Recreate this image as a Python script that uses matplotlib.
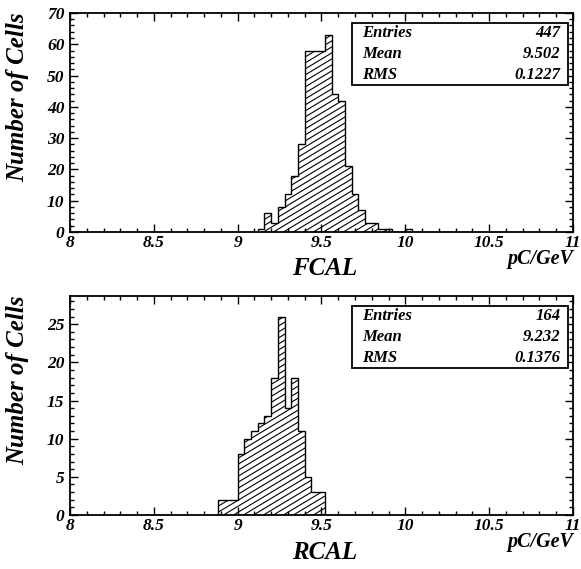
import numpy as np
import matplotlib
matplotlib.use("Agg")
import matplotlib.pyplot as plt
from matplotlib.ticker import MultipleLocator
from matplotlib.collections import LineCollection

plt.rcParams["font.family"] = "Liberation Serif"

# bin width 0.04 pC/GeV
fcal_lo = 9.12
fcal_counts = [1, 6, 3, 8, 12, 18, 28, 58, 58, 58, 63, 44, 42, 21, 12, 7, 3, 3, 1, 1, 0, 0, 1]
rcal_lo = 8.88
rcal_counts = [2, 2, 2, 8, 10, 11, 12, 13, 18, 26, 14, 18, 11, 5, 3, 3]
bin_w = 0.04

fcal_stats = ["447", "9.502", "0.1227"]
rcal_stats = ["164", "9.232", "0.1376"]
stat_names = ["Entries", "Mean", "RMS"]

W, H = 581, 569
fig = plt.figure(figsize=(W / 100, H / 100), dpi=100)
ax1 = fig.add_axes([0.1205, 0.5923, 0.8657, 0.3849])
ax2 = fig.add_axes([0.1205, 0.0949, 0.8657, 0.3849])

bold_it = dict(fontweight="bold", fontstyle="italic")


def hatch_lines(ax, patch, angle=31, gap=6.0):
    # ROOT-like slanted hatching, built in pixel units then clipped to the histogram
    wpx = ax.get_position().width * W
    hpx = ax.get_position().height * H
    t = np.tan(np.radians(angle))
    segs = []
    c = -wpx * t
    while c < hpx:
        x0, x1 = 0, wpx
        segs.append([(x0 / wpx, c / hpx), (x1 / wpx, (c + x1 * t) / hpx)])
        c += gap
    lc = LineCollection(segs, colors="black", linewidths=0.8, transform=ax.transAxes)
    ax.add_collection(lc)
    lc.set_clip_path(patch)


def draw(ax, lo, counts, ymax, ymaj, ymin, stats, name, namey):
    edges = lo + bin_w * np.arange(len(counts) + 1)
    patch = ax.stairs(counts, edges, fill=True, facecolor="white", edgecolor="none")
    hatch_lines(ax, patch)
    ax.stairs(counts, edges, fill=False, color="black", linewidth=1.0, baseline=0)
    ax.set_xlim(8, 11)
    ax.set_ylim(0, ymax)
    ax.xaxis.set_major_locator(MultipleLocator(0.5))
    ax.xaxis.set_minor_locator(MultipleLocator(0.1))
    ax.yaxis.set_major_locator(MultipleLocator(ymaj))
    ax.yaxis.set_minor_locator(MultipleLocator(ymin))
    ax.tick_params(which="both", direction="in", top=True, right=True, width=1)
    ax.tick_params(which="major", length=6)
    ax.tick_params(which="minor", length=3)
    ax.tick_params(axis="x", pad=2)
    ax.tick_params(axis="y", pad=4)
    ax.set_xticks([8, 8.5, 9, 9.5, 10, 10.5, 11])
    ax.set_xticklabels(["8", "8.5", "9", "9.5", "10", "10.5", "11"])
    for lab in ax.get_xticklabels() + ax.get_yticklabels():
        lab.set_fontsize(12.5)
        lab.set_fontweight("bold")
        lab.set_fontstyle("italic")
    for s in ax.spines.values():
        s.set_linewidth(1.3)
    ax.set_ylabel("Number of Cells", fontsize=18, **bold_it)
    ax.yaxis.set_label_coords(-0.082, 0.615)
    ax.text(0.507, namey, name, transform=ax.transAxes, ha="center", va="center",
            fontsize=18, **bold_it)
    ax.text(1.0, -0.125, "pC/GeV", transform=ax.transAxes, ha="right", va="center",
            fontsize=14.5, **bold_it)
    # stat box
    bx0, by0, bw, bh = 0.561, 0.67, 0.429, 0.285
    ax.add_patch(plt.Rectangle((bx0, by0), bw, bh, transform=ax.transAxes,
                               facecolor="white", edgecolor="black", lw=1.3, zorder=5))
    for i, (n, v) in enumerate(zip(stat_names, stats)):
        yy = by0 + bh * (5 - 2 * i) / 6
        ax.text(bx0 + 0.02, yy, n, transform=ax.transAxes, ha="left", va="center",
                fontsize=12, zorder=6, **bold_it)
        ax.text(bx0 + bw - 0.015, yy, v, transform=ax.transAxes, ha="right",
                va="center", fontsize=12, zorder=6, **bold_it)


draw(ax1, fcal_lo, fcal_counts, 70, 10, 2, fcal_stats, "FCAL", -0.165)
draw(ax2, rcal_lo, rcal_counts, 28.7, 5, 1, rcal_stats, "RCAL", -0.17)

fig.savefig("out.png", dpi=100)
